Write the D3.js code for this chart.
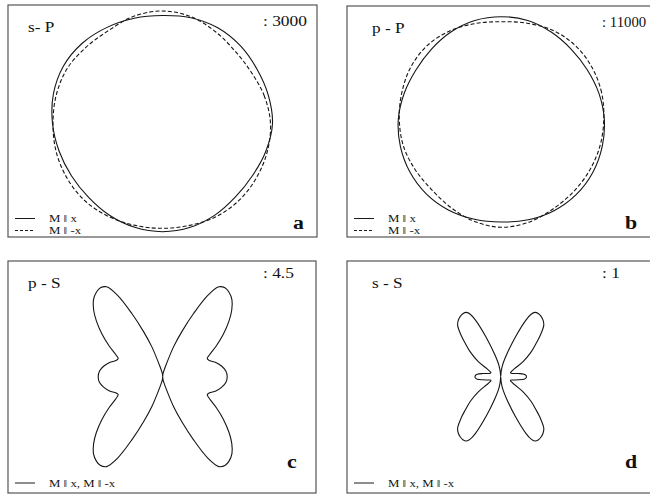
<!DOCTYPE html>
<html>
<head>
<meta charset="utf-8">
<script src="https://cdn.jsdelivr.net/npm/d3@7"></script>
<style>
  body { margin: 0; background: #fff; }
  text { font-family: 'Liberation Serif', 'Times New Roman', serif; fill: #111; }
</style>
</head>
<body>
<svg id="chart" width="650" height="494"></svg>
<script>
// angles in degrees, counter-clockwise from +x (0 = right, 90 = up)
const circleAngles = [0, 15, 30, 45, 60, 75, 90, 105, 120, 135, 150, 165,
  180, 195, 210, 225, 240, 255, 270, 285, 300, 315, 330, 345];

// a: s-P
const spSolid  = [110, 109.5, 109, 110, 110.5, 109.5, 108, 109, 111, 113.5, 114.5, 113,
  110, 107, 105, 104.5, 106, 107.5, 108.2, 107.5, 105.5, 103.5, 104, 107];
const spDashed = [108, 105.5, 102.5, 102.5, 106, 110.5, 112.5, 111, 107.5, 108, 110, 110,
  109.5, 110, 110, 109.5, 107.5, 105.5, 104.8, 105.5, 107.5, 108.5, 108.5, 108.5];

// b: p-P
const ppSolid  = [103, 101, 99.2, 99, 100.5, 102.3, 102.6, 102.3, 100.8, 99, 98.6, 100.5,
  103, 104.5, 105.5, 105.8, 105, 103.5, 102.7, 104, 105.5, 106.2, 105.8, 104.5];
const ppDashed = [102.5, 103.8, 104.5, 104.5, 102.8, 99.5, 97.6, 99.2, 102.3, 104.5, 104.5, 103,
  102, 101.5, 99.8, 99, 101.5, 105.5, 108, 106.5, 103.5, 102.2, 102, 102.2];

// c: p-S
const psAngles = [0, 5, 10, 15, 19, 22, 25, 30, 35, 40, 44, 48, 52, 55, 58, 61, 64, 67, 70, 75, 80, 85,
  90, 95, 100, 105, 110, 113, 116, 119, 122, 125, 128, 132, 136, 140, 145, 150, 155, 158, 161, 165, 170, 175,
  180, 185, 190, 195, 199, 202, 205, 210, 215, 220, 224, 228, 232, 235, 238, 241, 244, 247, 250, 255, 260, 265,
  270, 275, 280, 285, 290, 293, 296, 299, 302, 305, 308, 312, 316, 320, 325, 330, 335, 338, 341, 345, 350, 355];
const psRadius = [64.5, 63.5, 60, 55, 49.5, 48, 51.5, 62, 74, 86.5, 96, 103.5, 107.5, 108.5, 106, 93, 70, 49, 32, 10.5, 5, 2.5,
  0, 2.5, 5, 10.5, 32, 49, 70, 93, 106, 108.5, 107.5, 103.5, 96, 86.5, 74, 62, 51.5, 48, 49.5, 55, 60, 63.5,
  64.5, 63.5, 60, 55, 49.5, 48, 51.5, 62, 74, 86.5, 96, 103.5, 107.5, 108.5, 106, 93, 70, 49, 32, 10.5, 5, 2.5,
  0, 2.5, 5, 10.5, 32, 49, 70, 93, 106, 108.5, 107.5, 103.5, 96, 86.5, 74, 62, 51.5, 48, 49.5, 55, 60, 63.5];

// d: s-S
const ssAngles = [0, 3, 6, 10, 14, 18, 22, 26, 30, 34, 39, 43, 46, 50, 53, 56, 59, 62, 64, 66, 70, 75, 79, 82, 85,
  90, 95, 98, 101, 105, 110, 114, 116, 118, 121, 124, 127, 130, 134, 137, 141, 146, 150, 154, 158, 162, 166, 170, 174, 177,
  180, 183, 186, 190, 194, 198, 202, 206, 210, 214, 219, 223, 226, 230, 233, 236, 239, 242, 244, 246, 250, 255, 259, 262, 265,
  270, 275, 278, 281, 285, 290, 294, 296, 298, 301, 304, 307, 310, 314, 317, 321, 326, 330, 334, 338, 342, 346, 350, 354, 357];
const ssRadius = [25.7, 25.3, 23.5, 18, 13.5, 11, 10.5, 12, 16, 27, 39, 48, 56.5, 67, 70.5, 72.5, 73.5, 72.8, 69.5, 62, 41, 23, 15, 10, 5,
  0, 5, 10, 15, 23, 41, 62, 69.5, 72.8, 73.5, 72.5, 70.5, 67, 56.5, 48, 39, 27, 16, 12, 10.5, 11, 13.5, 18, 23.5, 25.3,
  25.7, 25.3, 23.5, 18, 13.5, 11, 10.5, 12, 16, 27, 39, 48, 56.5, 67, 70.5, 72.5, 73.5, 72.8, 69.5, 62, 41, 23, 15, 10, 5,
  0, 5, 10, 15, 23, 41, 62, 69.5, 72.8, 73.5, 72.5, 70.5, 67, 56.5, 48, 39, 27, 16, 12, 10.5, 11, 13.5, 18, 23.5, 25.3];

const panelTitles  = ["s- P", "p - P", "p - S", "s - S"];
const panelScales  = [": 3000", ": 11000", ": 4.5", ": 1"];
const panelLetters = ["a", "b", "c", "d"];
const legendSolid  = ["M \u2016 x", "M \u2016 x", "M \u2016 x, M \u2016 -x", "M \u2016 x, M \u2016 -x"];
const legendDashed = ["M \u2016 -x", "M \u2016 -x", null, null];

// layout
const panels = [
  {x: 8,   y: 5,   w: 309, h: 232, cx: 162.5, cy: 123.5, tx: 20, sy: 21, lx: 285, ly: 224, ssx: 1.2},
  {x: 347, y: 6,   w: 309, h: 231, cx: 501.3, cy: 119.3, tx: 25, sy: 21, lx: 278, ly: 223, ssx: 1.02},
  {x: 8,   y: 261, w: 308, h: 232, cx: 162.7, cy: 376.7, tx: 20, sy: 17, lx: 279, ly: 207, ssx: 1.2},
  {x: 347, y: 261, w: 309, h: 232, cx: 500.7, cy: 376.7, tx: 25, sy: 17, lx: 278, ly: 207, ssx: 1.2}
];
const curves = [
  [{a: circleAngles, r: spSolid, dash: null}, {a: circleAngles, r: spDashed, dash: "4,2.2"}],
  [{a: circleAngles, r: ppSolid, dash: null}, {a: circleAngles, r: ppDashed, dash: "4,2.2"}],
  [{a: psAngles, r: psRadius, dash: null}],
  [{a: ssAngles, r: ssRadius, dash: null}]
];

const svg = d3.select("#chart");
const rScale = d3.scaleLinear().domain([0, 100]).range([0, 100]);
const radial = d3.lineRadial()
  .angle(d => (90 - d[0]) * Math.PI / 180)
  .radius(d => rScale(d[1]))
  .curve(d3.curveCatmullRomClosed.alpha(0.5));

function addText(g, x, y, str, size, weight, sx) {
  g.append("text")
    .attr("transform", `translate(${x},${y}) scale(${sx},1)`)
    .style("font-size", size + "px")
    .style("font-weight", weight)
    .text(str);
}

panels.forEach((p, i) => {
  const g = svg.append("g");
  g.append("rect")
    .attr("x", p.x).attr("y", p.y).attr("width", p.w).attr("height", p.h)
    .attr("fill", "none").attr("stroke", "#555").attr("stroke-width", 1.2);

  curves[i].forEach(c => {
    g.append("path")
      .attr("transform", `translate(${p.cx},${p.cy})`)
      .attr("d", radial(d3.zip(c.a, c.r)))
      .attr("fill", "none")
      .attr("stroke", "#151515")
      .attr("stroke-width", 1.1)
      .attr("stroke-dasharray", c.dash);
  });

  addText(g, p.x + p.tx, p.y + 27, panelTitles[i], 15, "normal", 1.15);
  addText(g, p.x + 255, p.y + p.sy, panelScales[i], 14.5, "normal", p.ssx);
  addText(g, p.x + p.lx, p.y + p.ly, panelLetters[i], 19, "bold", 1.15);

  const ly = p.y + p.h - (legendDashed[i] ? 18.5 : 10);
  g.append("line").attr("x1", p.x + 7).attr("x2", p.x + 27)
    .attr("y1", ly).attr("y2", ly).attr("stroke", "#1a1a1a");
  addText(g, p.x + 41, ly + 3.5, legendSolid[i], 10.5, "normal", 1.22);
  if (legendDashed[i]) {
    g.append("line").attr("x1", p.x + 7).attr("x2", p.x + 27)
      .attr("y1", ly + 12).attr("y2", ly + 12).attr("stroke", "#1a1a1a")
      .attr("stroke-dasharray", "3,2");
    addText(g, p.x + 41, ly + 15.5, legendDashed[i], 10.5, "normal", 1.22);
  }
});
</script>
</body>
</html>
